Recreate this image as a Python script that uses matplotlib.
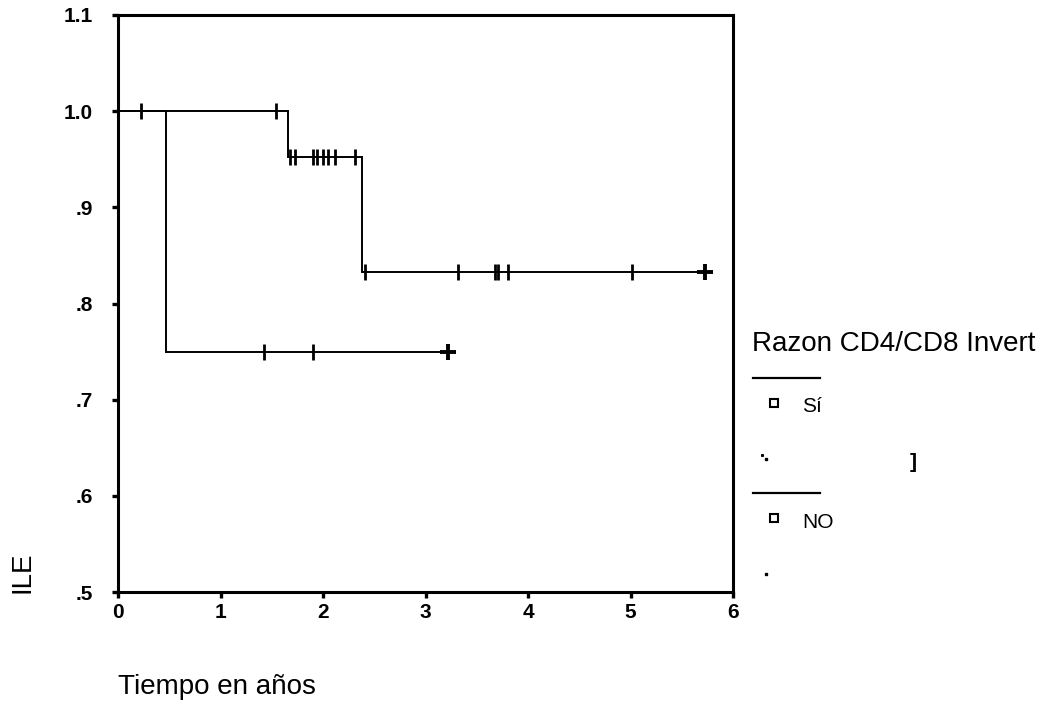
import numpy as np
import matplotlib
matplotlib.use('Agg')
from matplotlib import pyplot as plt
from matplotlib.lines import Line2D

plt.rcParams['font.family'] = ['Liberation Sans', 'DejaVu Sans']

# Kaplan-Meier curves
si_event_times = [0.0, 1.66, 2.38]
si_survival = [1.0, 0.952, 0.833]
si_end = 5.75
si_censored = [0.22, 1.54, 1.68, 1.73, 1.90, 1.94, 2.00, 2.05, 2.12, 2.31,
               2.41, 3.32, 3.68, 3.71, 3.80, 5.01, 5.73]

no_event_times = [0.0, 0.47]
no_survival = [1.0, 0.75]
no_end = 3.27
no_censored = [1.42, 1.90, 3.22]

x_ticks = [0, 1, 2, 3, 4, 5, 6]
y_ticks = [0.5, 0.6, 0.7, 0.8, 0.9, 1.0, 1.1]
y_tick_labels = ['.5', '.6', '.7', '.8', '.9', '1.0', '1.1']

legend_title = 'Razon CD4/CD8 Invert'
legend_labels = ['Sí', 'NO']


def level_at(times, levels, t):
    idx = np.searchsorted(times, t, side='right') - 1
    return np.asarray(levels)[idx]


def draw_curve(ax, times, levels, end, censored):
    xs = list(times) + [end]
    ys = list(levels) + [levels[-1]]
    ax.step(xs, ys, where='post', color='black', lw=1.4, solid_joinstyle='miter')
    cens = np.array(censored)
    ax.plot(cens[:-1], level_at(times, levels, cens[:-1]), ls='none', marker='|',
            ms=11, mew=2.0, color='black')
    ax.plot(cens[-1:], level_at(times, levels, cens[-1:]), ls='none', marker='+',
            ms=11, mew=2.8, color='black')


fig = plt.figure(figsize=(10.51, 7.09), dpi=100)
ax = fig.add_axes([118 / 1051, 1 - 592 / 709, 615 / 1051, 577 / 709])

draw_curve(ax, si_event_times, si_survival, si_end, si_censored)
draw_curve(ax, no_event_times, no_survival, no_end, no_censored)

ax.set_xlim(0, 6)
ax.set_ylim(0.5, 1.1)
ax.set_xticks(x_ticks)
ax.set_yticks(y_ticks)
ax.set_yticklabels(y_tick_labels)
for s in ax.spines.values():
    s.set_linewidth(2.2)
ax.tick_params(direction='out', length=4, width=2.4, labelsize=15)
ax.tick_params(axis='y', pad=14)
ax.tick_params(axis='x', pad=4)
for lab in ax.get_xticklabels() + ax.get_yticklabels():
    lab.set_fontweight('bold')

fig.text(23 / 1051, 1 - 572 / 709, 'ILE', rotation=90, fontsize=20,
         ha='center', va='center')
fig.text(118 / 1051, 1 - 687 / 709, 'Tiempo en años', fontsize=20,
         ha='left', va='center')

# legend drawn by hand, the way it sits on the original
W, H = 1051, 709
fig.text(752 / W, 1 - 344 / H, legend_title, fontsize=20, ha='left', va='center')
for ly, label in zip([378, 493], legend_labels):
    fig.add_artist(Line2D([753 / W, 820 / W], [1 - ly / H, 1 - ly / H],
                          color='black', lw=1.6, transform=fig.transFigure))
    fig.add_artist(Line2D([774 / W], [1 - (ly + 25) / H], marker='s', ms=6,
                          mfc='white', mec='black', mew=1.5, ls='none',
                          transform=fig.transFigure))
    fig.text(802 / W, 1 - (ly + 29) / H, label, fontsize=15, ha='left', va='center')
    fig.add_artist(Line2D([766 / W], [1 - (ly + 81) / H], marker='s', ms=1.8,
                          color='black', ls='none', transform=fig.transFigure))
fig.add_artist(Line2D([762 / W], [1 - 455 / H], marker='s', ms=1.2,
                      color='black', ls='none', transform=fig.transFigure))
fig.text(913 / W, 1 - 463 / H, ']', fontsize=15, fontweight='bold',
         ha='center', va='center')

fig.savefig('out.png', dpi=100)
